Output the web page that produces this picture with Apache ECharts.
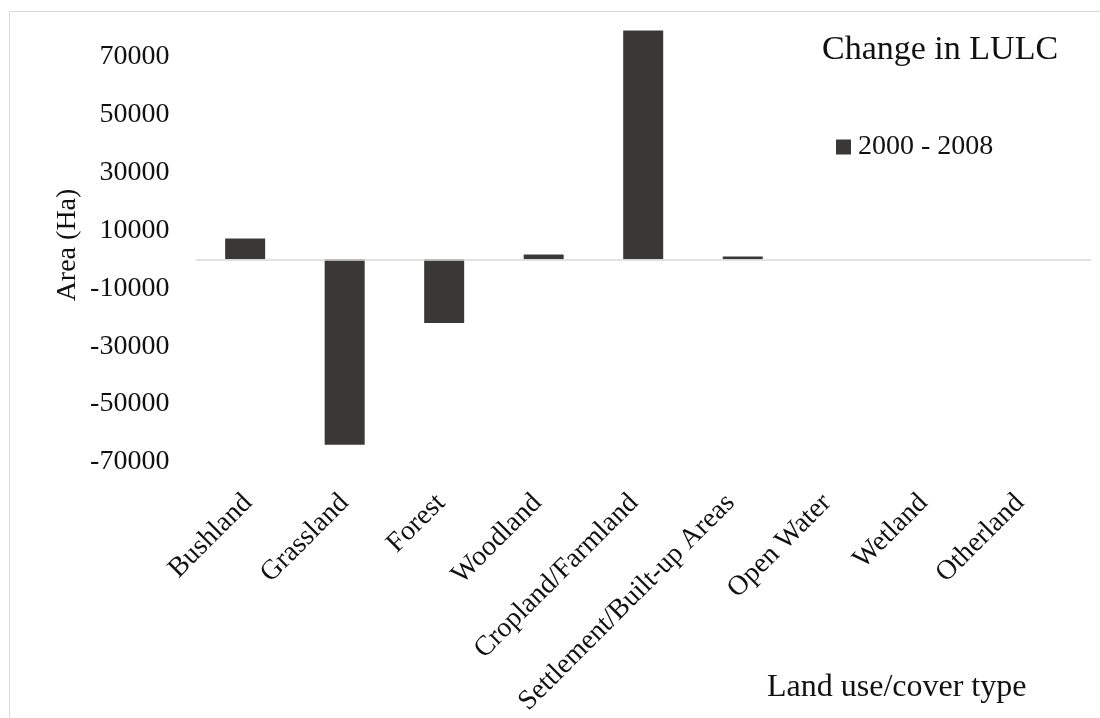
<!DOCTYPE html>
<html>
<head>
<meta charset="utf-8">
<script src="https://cdn.jsdelivr.net/npm/echarts@6/dist/echarts.min.js"></script>
<style>
  html, body { margin: 0; padding: 0; background: #fff; }
  #chart { width: 1100px; height: 718px; }
</style>
</head>
<body>
<div id="chart"></div>
<script>
// Land use / land cover classes
const categories = ['Bushland', 'Grassland', 'Forest', 'Woodland', 'Cropland/Farmland',
  'Settlement/Built-up Areas', 'Open Water', 'Wetland', 'Otherland'];
// Change in area (ha), 2000 - 2008
const seriesName = '2000 - 2008';
const changeHa = [7200, -64000, -22000, 1700, 79000, 1000, 0, 0, 0];
// Labelled ticks on the value axis
const yTickLabels = [-70000, -50000, -30000, -10000, 10000, 30000, 50000, 70000];

const FONT = '"Liberation Serif", "Times New Roman", serif';
const INK = '#111';

const chart = echarts.init(document.getElementById('chart'), null, { renderer: 'canvas' });

chart.setOption({
  animation: false,
  backgroundColor: '#fff',
  textStyle: { fontFamily: FONT, color: INK },
  grid: [
    { left: 195.4, right: 9, top: 27.6, bottom: 227, containLabel: false },
    // label row for the category names
    { left: 199.75, right: 31.75, top: 27.6, bottom: 227, containLabel: false }
  ],
  legend: {
    data: [seriesName],
    left: 836, top: 133, padding: 0,
    icon: 'rect', itemWidth: 15, itemHeight: 15, itemGap: 10,
    textStyle: { fontFamily: FONT, fontSize: 28, color: INK, padding: [0, 0, 0, 2] }
  },
  xAxis: [
    {
      type: 'category', gridIndex: 0, data: categories,
      axisLine: { show: false, onZero: false },
      axisTick: { show: false },
      axisLabel: { show: false },
      splitLine: { show: false }
    },
    {
      type: 'category', gridIndex: 1, data: categories, position: 'bottom',
      axisLine: { show: false, onZero: false },
      axisTick: { show: false },
      splitLine: { show: false },
      axisLabel: {
        rotate: 45, margin: 8, interval: 0,
        fontFamily: FONT, fontSize: 28, color: INK
      }
    }
  ],
  yAxis: [
    {
      type: 'value', gridIndex: 0, min: -80000, max: 80000, interval: 10000,
      axisLine: { show: false }, axisTick: { show: false },
      splitLine: { show: false },
      axisLabel: {
        margin: 26, fontFamily: FONT, fontSize: 28, color: INK,
        padding: [0, 0, 4, 0],
        formatter: v => (yTickLabels.includes(v) ? String(v) : '')
      }
    },
    {
      type: 'value', gridIndex: 1, min: 0, max: 1, show: false
    }
  ],
  series: [
    {
      name: seriesName,
      type: 'bar',
      xAxisIndex: 0, yAxisIndex: 0,
      data: changeHa,
      barWidth: 40,
      itemStyle: { color: '#3a3836', borderWidth: 0 },
      markLine: {
        silent: true, symbol: 'none',
        label: { show: false },
        lineStyle: { color: '#d9d9d9', width: 1.5, type: 'solid' },
        data: [{ yAxis: 0 }]
      }
    }
  ],
  graphic: [
    {
      type: 'rect', silent: true, z: -1,
      shape: { x: 9.5, y: 11.5, width: 1100, height: 720 },
      style: { fill: 'none', stroke: '#d9d9d9', lineWidth: 1 }
    },
    {
      type: 'text', x: 822, y: 50, silent: true,
      style: { text: 'Change in LULC', font: '34px ' + FONT, fill: INK,
        align: 'left', verticalAlign: 'middle' }
    },
    {
      type: 'text', x: 67.5, y: 245, rotation: Math.PI / 2, silent: true,
      style: { text: 'Area (Ha)', font: '28px ' + FONT, fill: INK,
        align: 'center', verticalAlign: 'middle' }
    },
    {
      type: 'text', x: 767, y: 687.5, silent: true,
      style: { text: 'Land use/cover type', font: '32px ' + FONT, fill: INK,
        align: 'left', verticalAlign: 'middle' }
    }
  ]
});
</script>
</body>
</html>
